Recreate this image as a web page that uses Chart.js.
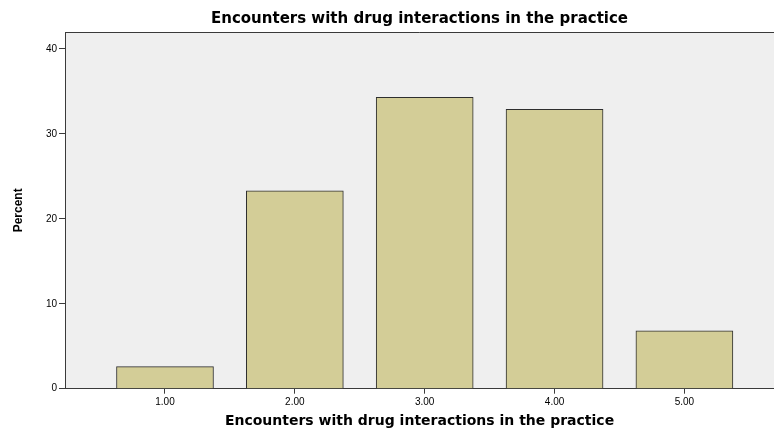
<!DOCTYPE html>
<html>
<head>
<meta charset="utf-8">
<script src="https://cdn.jsdelivr.net/npm/chart.js@4"></script>
<style>
  html, body { margin: 0; padding: 0; background: #ffffff; }
  #wrap { width: 774px; height: 428px; }
</style>
</head>
<body>
<div id="wrap"><canvas id="barChart" width="774" height="428"></canvas></div>
<script>
// values
const categories = [1, 2, 3, 4, 5];
const percentValues = [2.6, 23.3, 34.3, 32.9, 6.8];
const yTicks = [0, 10, 20, 30, 40];

// draw the grey plot panel and its frame
const panelPlugin = {
    id: 'panel',
    beforeDraw(chart) {
        const { ctx, chartArea } = chart;
        ctx.save();
        ctx.fillStyle = '#efefef';
        ctx.fillRect(chartArea.left, chartArea.top, chartArea.right - chartArea.left, chartArea.bottom - chartArea.top);
        ctx.strokeStyle = '#3a3a3a';
        ctx.lineWidth = 1;
        ctx.beginPath();
        ctx.moveTo(chartArea.left + 0.5, chartArea.bottom);
        ctx.lineTo(chartArea.left + 0.5, chartArea.top + 0.5);
        ctx.lineTo(chartArea.right, chartArea.top + 0.5);
        ctx.stroke();
        ctx.restore();
    }
};

const ctx = document.getElementById('barChart').getContext('2d');
new Chart(ctx, {
    type: 'bar',
    data: {
        datasets: [{
            label: 'Percent',
            data: categories.map((c, i) => ({ x: c, y: percentValues[i] })),
            backgroundColor: '#d3cd97',
            borderColor: '#2e2e2e',
            borderWidth: 1,
            barThickness: 97
        }]
    },
    options: {
        responsive: false,
        animation: false,
        layout: { padding: { left: 0, right: 0, top: 0, bottom: 0 } },
        plugins: {
            legend: { display: false },
            tooltip: { enabled: false },
            title: {
                display: true,
                fullSize: false,
                text: 'Encounters with drug interactions in the practice',
                color: '#000',
                font: { family: 'DejaVu Sans', size: 15, weight: 'bold' },
                padding: { top: 10, bottom: 4 }
            }
        },
        scales: {
            x: {
                type: 'linear',
                offset: false,
                min: 0.23,
                max: 5.69,
                afterBuildTicks(scale) {
                    scale.ticks = categories.map(v => ({ value: v }));
                },
                ticks: {
                    color: '#000',
                    font: { family: 'Liberation Sans', size: 10 },
                    padding: 3,
                    maxRotation: 0,
                    callback: v => v.toFixed(2)
                },
                grid: { offset: false, drawOnChartArea: false, tickLength: 5, color: '#3a3a3a' },
                border: { color: '#3a3a3a', width: 1 },
                title: {
                    display: true,
                    text: 'Encounters with drug interactions in the practice',
                    color: '#000',
                    font: { family: 'DejaVu Sans', size: 14, weight: 'bold', lineHeight: 0.95 },
                    padding: { top: 3, bottom: 0 }
                }
            },
            y: {
                min: 0,
                max: 42,
                afterBuildTicks(scale) {
                    scale.ticks = yTicks.map(v => ({ value: v }));
                },
                afterFit(scale) {
                    scale.width = 65;
                },
                ticks: {
                    color: '#000',
                    font: { family: 'Liberation Sans', size: 10 },
                    padding: 2
                },
                grid: { drawOnChartArea: false, tickLength: 6, color: '#3a3a3a' },
                border: { color: '#3a3a3a', width: 1 },
                title: {
                    display: true,
                    text: 'Percent',
                    color: '#000',
                    font: { family: 'Liberation Sans', size: 12, weight: 'bold' },
                    padding: { top: 11, bottom: 0 }
                }
            }
        }
    },
    plugins: [panelPlugin]
});
</script>
</body>
</html>
